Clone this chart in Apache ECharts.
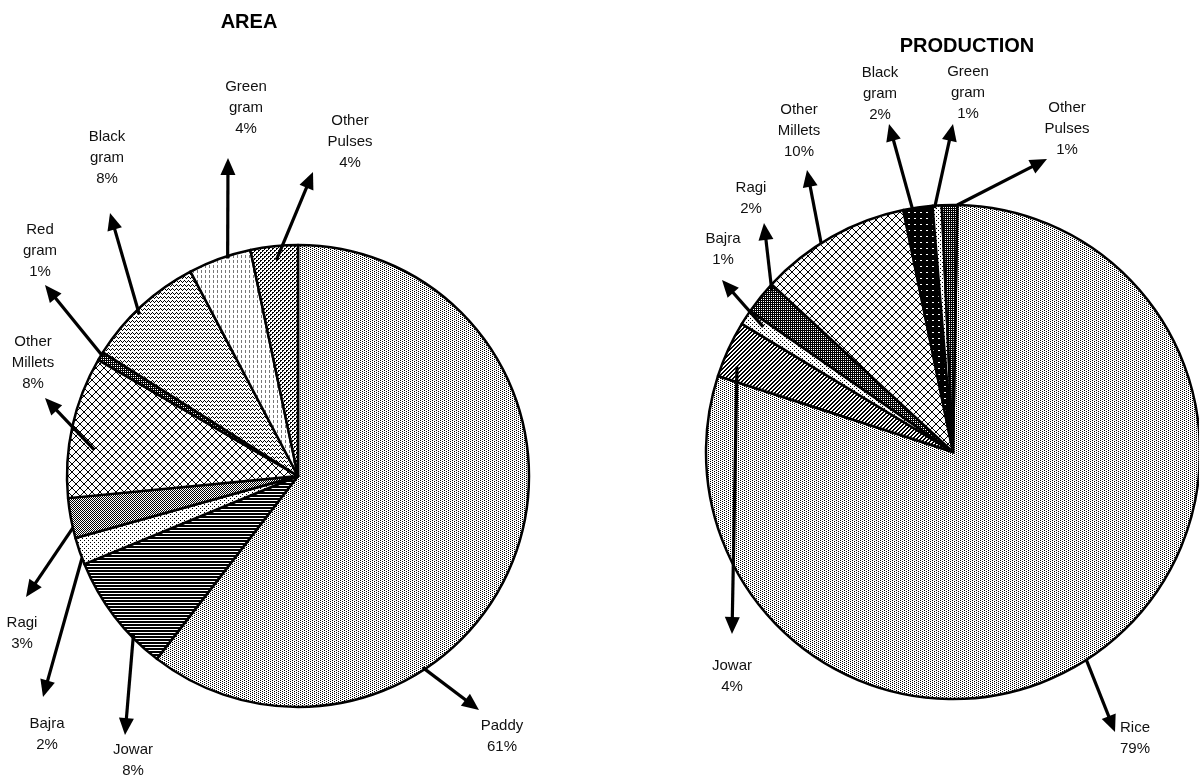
<!DOCTYPE html>
<html>
<head>
<meta charset="utf-8">
<script src="https://cdn.jsdelivr.net/npm/echarts/dist/echarts.min.js"></script>
<style>
  html, body { margin: 0; padding: 0; background: #fff; }
  #chart { width: 1199px; height: 781px; }
</style>
</head>
<body>
<div id="chart"></div>
<script>
// ---------------- DATA ----------------
const areaCategories = ['Paddy', 'Jowar', 'Bajra', 'Ragi', 'Other Millets', 'Red gram', 'Black gram', 'Green gram', 'Other Pulses'];
const areaValues = [60.4, 8.3, 1.9, 2.8, 9.9, 0.6, 8.3, 4.4, 3.3];
const areaPercentText = ['61%', '8%', '2%', '3%', '8%', '1%', '8%', '4%', '4%'];

const prodCategories = ['Rice', 'Jowar', 'Bajra', 'Ragi', 'Other Millets', 'Black gram', 'Green gram', 'Other Pulses'];
const prodValues = [79.7, 3.7, 1.0, 2.2, 9.9, 1.9, 0.6, 1.0];
const prodPercentText = ['79%', '4%', '1%', '2%', '10%', '2%', '1%', '1%'];

const titles = ['AREA', 'PRODUCTION'];

// ---------------- LAYOUT (pixels) ----------------
const areaLayout = { center: [298, 476], radius: 231, startAngle: 90 };
const prodLayout = { center: [953, 452], radius: 247, startAngle: 89 };
const titlePos = [[244, 7], [962, 31]];

const areaLabelPos = [[502, 736], [133, 760], [47, 734], [22, 633], [33, 363], [40, 251], [107, 158], [246, 108], [350, 142]];
const areaArrowHead = [[479, 710], [125, 735], [43, 697], [26, 597], [45, 398], [45, 285], [110, 213], [228, 158], [313, 172]];
// [fraction along slice angle, fraction of radius]
const areaArrowTail = [[0.675, 0.99], [0.28, 0.99], [0.24, 1.0], [0.26, 1.0], [0.36, 0.89], [0.6, 0.99], [0.44, 0.98], [0.62, 0.99], [0.52, 0.94]];

const prodLabelPos = [[1135, 738], [732, 676], [723, 249], [751, 198], [799, 131], [880, 94], [968, 93], [1067, 129]];
const prodArrowHead = [[1115, 732], [732, 634], [722, 280], [764, 223], [807, 170], [889, 124], [953, 124], [1047, 159]];
const prodArrowTail = [[0.51, 1.0], [0.27, 0.94], [0.6, 0.92], [0.85, 0.98], [0.42, 1.0], [0.31, 1.0], [0.2, 0.99], [1.0, 1.0]];

// ---------------- PATTERNS ----------------
function tile(rows) {
  const h = rows.length, w = rows[0].length;
  const c = document.createElement('canvas');
  c.width = w; c.height = h;
  const ctx = c.getContext('2d');
  ctx.fillStyle = '#fff'; ctx.fillRect(0, 0, w, h);
  for (let y = 0; y < h; y++) for (let x = 0; x < w; x++) {
    const ch = rows[y][x];
    if (ch === '#') { ctx.fillStyle = '#000'; ctx.fillRect(x, y, 1, 1); }
    else if (ch === 'g') { ctx.fillStyle = '#777'; ctx.fillRect(x, y, 1, 1); }
  }
  return { image: c, repeat: 'repeat' };
}
const P = {
  dots25: tile(['#...', '..#.']),
  dots12: tile(['#...', '....', '..#.', '....']),
  hlines: tile(['#', '#', '.']),
  checker: tile(['#.', '.#']),
  cross: tile(['#......#', '.#....#.', '..#..#..', '...##...', '...##...', '..#..#..', '.#....#.', '#......#']),
  weave: tile(['#...#...', '.#...#..', '..#.#...', '...#....', '#...#...', '.#.#....', '..#.....', '.#.#....']),
  dark: tile(['##', '#.']),
  wave: tile(['#...', '.#.#', '..#.', '....']),
  vdash: tile(['.g..', '.g..', '.g..', '....', '....']),
  smallcirc: tile(['##..', '#...', '..##', '..#.']),
  diag: tile(['..##', '.##.', '##..', '#..#']),
  blackdash: tile(['######', '######', '##..##', '######', '######', '######'])
};
const areaPatterns = [P.dots25, P.hlines, P.dots12, P.checker, P.cross, P.dark, P.wave, P.vdash, P.smallcirc];
const prodPatterns = [P.dots25, P.diag, P.dots12, P.dark, P.cross, P.blackdash, P.dots12, P.dark];

// ---------------- CHART ----------------
const FONT = '"Liberation Sans", Arial, sans-serif';
const chart = echarts.init(document.getElementById('chart'), null, { renderer: 'canvas' });

function pieSeries(name, layout, cats, vals, pcts, pats, labelPos) {
  return {
    type: 'pie',
    name: name,
    center: layout.center,
    radius: layout.radius,
    startAngle: layout.startAngle,
    clockwise: true,
    avoidLabelOverlap: false,
    silent: true,
    emphasis: { disabled: true },
    itemStyle: { borderColor: '#000', borderWidth: 2.5 },
    data: cats.map((n, i) => ({ name: n, value: vals[i], itemStyle: { color: pats[i] } })),
    label: {
      show: true,
      formatter: p => p.name.replace(' ', '\n') + '\n' + pcts[p.dataIndex],
      color: '#111',
      fontSize: 15,
      lineHeight: 21,
      fontFamily: FONT,
      align: 'center'
    },
    labelLine: { show: false },
    labelLayout: p => ({ x: labelPos[p.dataIndex][0], y: labelPos[p.dataIndex][1], align: 'center', verticalAlign: 'middle' })
  };
}

chart.setOption({
  animation: false,
  backgroundColor: '#fff',
  title: titles.map((t, i) => ({
    text: t,
    left: titlePos[i][0],
    top: titlePos[i][1],
    textAlign: 'center',
    textStyle: { fontSize: 20, fontWeight: 'bold', color: '#000', fontFamily: FONT }
  })),
  series: [
    pieSeries('AREA', areaLayout, areaCategories, areaValues, areaPercentText, areaPatterns, areaLabelPos),
    pieSeries('PRODUCTION', prodLayout, prodCategories, prodValues, prodPercentText, prodPatterns, prodLabelPos)
  ]
});

// ---------------- ARROWS (anchored to slice layout) ----------------
function sliceGeom(seriesIndex, values, layout) {
  let out = null;
  try {
    const data = chart.getModel().getSeriesByIndex(seriesIndex).getData();
    out = values.map((v, i) => {
      const l = data.getItemLayout(i);
      return { cx: l.cx, cy: l.cy, r: l.r, sa: l.startAngle, ea: l.endAngle };
    });
    if (out.some(o => !isFinite(o.sa) || !isFinite(o.r))) out = null;
  } catch (e) { out = null; }
  if (!out) {
    const total = values.reduce((a, b) => a + b, 0);
    let a = -layout.startAngle * Math.PI / 180;
    out = values.map(v => {
      const s = a; a += v / total * Math.PI * 2;
      return { cx: layout.center[0], cy: layout.center[1], r: layout.radius, sa: s, ea: a };
    });
  }
  return out;
}

function arrows(geom, tails, heads) {
  const els = [];
  const L = 17, HW = 7.5;
  geom.forEach((g, i) => {
    const ang = g.sa + tails[i][0] * (g.ea - g.sa);
    const rr = g.r * tails[i][1];
    const tx = g.cx + rr * Math.cos(ang), ty = g.cy + rr * Math.sin(ang);
    const hx = heads[i][0], hy = heads[i][1];
    const dx = hx - tx, dy = hy - ty, len = Math.hypot(dx, dy);
    const ux = dx / len, uy = dy / len, nx = -uy, ny = ux;
    const bx = hx - ux * L, by = hy - uy * L;
    els.push({ type: 'line', silent: true, z: 100,
      shape: { x1: tx, y1: ty, x2: hx - ux * (L - 2), y2: hy - uy * (L - 2) },
      style: { stroke: '#000', lineWidth: 3.2 } });
    els.push({ type: 'polygon', silent: true, z: 100,
      shape: { points: [[hx, hy], [bx + nx * HW, by + ny * HW], [bx - nx * HW, by - ny * HW]] },
      style: { fill: '#000' } });
  });
  return els;
}

const gArea = sliceGeom(0, areaValues, areaLayout);
const gProd = sliceGeom(1, prodValues, prodLayout);
chart.setOption({
  graphic: { elements: arrows(gArea, areaArrowTail, areaArrowHead).concat(arrows(gProd, prodArrowTail, prodArrowHead)) }
});
</script>
</body>
</html>
